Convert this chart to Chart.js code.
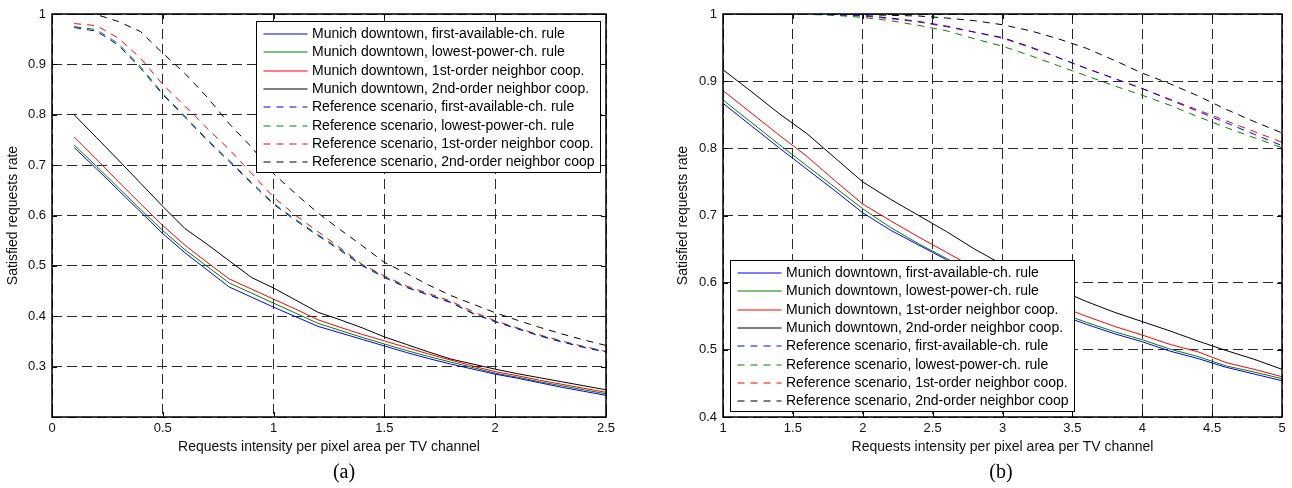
<!DOCTYPE html>
<html>
<head>
<meta charset="utf-8">
<script src="https://cdn.jsdelivr.net/npm/chart.js@4.4.1/dist/chart.umd.min.js"></script>
<style>
html,body{margin:0;padding:0;background:#fff;width:1292px;height:488px;overflow:hidden;position:relative;}
.wrap{position:absolute;top:0;height:460px;}
#wa{left:0;width:640px;}
#wb{left:670px;width:622px;}
.cap{position:absolute;top:459px;line-height:24px;font-size:20px;font-family:"Liberation Serif","Times New Roman",serif;color:#000;transform:translateX(-50%);}
</style>
</head>
<body>
<div class="wrap" id="wa"><canvas id="ca" width="640" height="460"></canvas></div>
<div class="wrap" id="wb"><canvas id="cb" width="622" height="460"></canvas></div>
<div class="cap" style="left:344px">(a)</div>
<div class="cap" style="left:1001px">(b)</div>
<script>
// ---------- data ----------
const seriesLabels = [
  "Munich downtown, first-available-ch. rule",
  "Munich downtown, lowest-power-ch. rule",
  "Munich downtown, 1st-order neighbor coop.",
  "Munich downtown, 2nd-order neighbor coop.",
  "Reference scenario, first-available-ch. rule",
  "Reference scenario, lowest-power-ch. rule",
  "Reference scenario, 1st-order neighbor coop.",
  "Reference scenario, 2nd-order neighbor coop"
];
const xTitle = "Requests intensity per pixel area per TV channel";
const yTitle = "Satisfied requests rate";

// panel (a)
const xA = [0.1,0.2,0.3,0.4,0.5,0.6,0.7,0.8,0.9,1.0,1.1,1.2,1.3,1.4,1.5,1.6,1.7,1.8,1.9,2.0,2.1,2.2,2.3,2.4,2.5];
const mdFirstA  = [0.735,0.693,0.650,0.607,0.564,0.526,0.492,0.458,0.438,0.418,0.399,0.380,0.367,0.354,0.341,0.328,0.316,0.305,0.295,0.285,0.277,0.268,0.259,0.251,0.243];
const mdLowestA = [0.740,0.698,0.655,0.612,0.570,0.532,0.499,0.466,0.446,0.426,0.406,0.386,0.372,0.358,0.345,0.332,0.320,0.309,0.298,0.287,0.279,0.270,0.262,0.254,0.246];
const md1stA    = [0.756,0.712,0.667,0.623,0.580,0.541,0.507,0.474,0.454,0.434,0.414,0.393,0.378,0.364,0.351,0.338,0.325,0.313,0.301,0.290,0.282,0.273,0.265,0.257,0.249];
const md2ndA    = [0.800,0.755,0.710,0.664,0.618,0.574,0.543,0.510,0.477,0.456,0.432,0.408,0.393,0.377,0.359,0.344,0.329,0.315,0.305,0.295,0.286,0.278,0.270,0.262,0.254];
const refFirstA  = [0.973,0.966,0.938,0.892,0.840,0.795,0.749,0.707,0.664,0.622,0.590,0.560,0.531,0.500,0.477,0.457,0.442,0.427,0.405,0.389,0.375,0.361,0.349,0.338,0.329];
const refLowestA = [0.975,0.969,0.941,0.895,0.842,0.797,0.751,0.709,0.666,0.624,0.592,0.562,0.533,0.502,0.479,0.458,0.443,0.428,0.406,0.390,0.376,0.362,0.350,0.339,0.330];
const ref1stA    = [0.981,0.977,0.952,0.912,0.860,0.817,0.773,0.731,0.684,0.636,0.600,0.568,0.536,0.503,0.480,0.460,0.445,0.430,0.409,0.391,0.377,0.363,0.351,0.340,0.330];
const ref2ndA    = [1.000,0.999,0.985,0.965,0.922,0.882,0.835,0.782,0.736,0.683,0.643,0.605,0.572,0.540,0.507,0.485,0.462,0.441,0.424,0.407,0.392,0.378,0.365,0.353,0.342];

// panel (b)
const xB = [1.0,1.2,1.4,1.6,1.8,2.0,2.2,2.4,2.6,2.8,3.0,3.2,3.4,3.6,3.8,4.0,4.2,4.4,4.6,4.8,5.0];
const mdFirstB  = [0.867,0.834,0.801,0.769,0.737,0.704,0.678,0.656,0.634,0.611,0.590,0.571,0.553,0.538,0.524,0.512,0.498,0.487,0.474,0.464,0.454];
const mdLowestB = [0.872,0.839,0.806,0.774,0.742,0.710,0.682,0.658,0.636,0.614,0.593,0.574,0.556,0.541,0.527,0.515,0.501,0.490,0.476,0.467,0.457];
const md1stB    = [0.886,0.853,0.820,0.788,0.752,0.717,0.692,0.668,0.645,0.622,0.601,0.584,0.566,0.550,0.535,0.522,0.508,0.497,0.481,0.471,0.460];
const md2ndB    = [0.917,0.885,0.852,0.822,0.786,0.750,0.724,0.700,0.676,0.650,0.627,0.608,0.590,0.572,0.556,0.542,0.528,0.513,0.499,0.486,0.471];
const refFirstB  = [1.000,1.000,1.000,1.000,0.999,0.998,0.994,0.989,0.982,0.973,0.965,0.951,0.935,0.919,0.904,0.889,0.872,0.855,0.838,0.821,0.804];
const refLowestB = [1.000,1.000,1.000,0.9995,0.998,0.995,0.990,0.983,0.975,0.963,0.952,0.938,0.923,0.908,0.893,0.879,0.864,0.847,0.831,0.816,0.801];
const ref1stB    = [1.000,1.000,1.000,1.000,0.999,0.997,0.993,0.988,0.981,0.973,0.964,0.950,0.935,0.919,0.904,0.889,0.873,0.857,0.841,0.825,0.809];
const ref2ndB    = [1.000,1.000,1.000,1.000,0.999,0.999,0.998,0.997,0.994,0.990,0.984,0.975,0.963,0.949,0.931,0.912,0.896,0.878,0.858,0.840,0.823];

// axis ranges / ticks
const xTicksA = {min:0, max:2.5, step:0.5};
const yTicksA = {min:0.2, max:1, step:0.1, hideMin:true};
const xTicksB = {min:1, max:5, step:0.5};
const yTicksB = {min:0.4, max:1, step:0.1, hideMin:false};

// ---------- styles ----------
const colors = ['#0000ff','#008000','#ff0000','#000000','#0000ff','#008000','#ff0000','#000000'];
const SERIES_DASH = [7,6];
const GRID_DASH = [10,5];
const FONT = '"Liberation Sans", Arial, Helvetica, sans-serif';

function pts(xs, ys){ return xs.map((x,i)=>({x:x, y:ys[i]})); }
function fmt(v){ return String(+Number(v).toFixed(2)); }

const frameLegend = {
  id: 'frameLegend',
  afterDraw(chart, args, opts){
    const {ctx, chartArea:a, scales:{x, y}} = chart;
    ctx.save();
    ctx.setLineDash([]);
    ctx.strokeStyle = '#000';
    // inward tick marks
    ctx.lineWidth = 1;
    ctx.beginPath();
    x.ticks.forEach(t=>{
      const px = Math.round(x.getPixelForValue(t.value)) + 0.5;
      ctx.moveTo(px, a.bottom); ctx.lineTo(px, a.bottom-5);
      ctx.moveTo(px, a.top); ctx.lineTo(px, a.top+5);
    });
    y.ticks.forEach(t=>{
      const py = Math.round(y.getPixelForValue(t.value)) + 0.5;
      ctx.moveTo(a.left, py); ctx.lineTo(a.left+5, py);
      ctx.moveTo(a.right, py); ctx.lineTo(a.right-5, py);
    });
    ctx.stroke();
    // box
    ctx.lineWidth = 1.5;
    ctx.strokeRect(a.left, a.top, a.right-a.left, a.bottom-a.top);

    // legend
    const W = 344, H = 151;
    let bx, by;
    if (opts.corner === 'tr') { bx = a.right - 6 - W; by = a.top + 7; }
    else { bx = a.left + 6.5; by = a.bottom - 6.5 - H; }
    bx = Math.round(bx) + 0.5; by = Math.round(by) + 0.5;
    ctx.fillStyle = '#fff';
    ctx.fillRect(bx, by, W, H);
    ctx.lineWidth = 1;
    ctx.strokeStyle = '#000';
    ctx.strokeRect(bx, by, W, H);
    ctx.font = '14px ' + FONT;
    ctx.textBaseline = 'middle';
    ctx.textAlign = 'left';
    chart.data.datasets.forEach((ds, i)=>{
      const cy = Math.round(by + 12.3 + i*18.35);
      ctx.strokeStyle = ds.borderColor;
      ctx.lineWidth = 1.2;
      ctx.setLineDash(ds.borderDash || []);
      ctx.beginPath();
      ctx.moveTo(bx + 7, cy); ctx.lineTo(bx + 51, cy);
      ctx.stroke();
      ctx.setLineDash([]);
      ctx.fillStyle = '#000';
      ctx.fillText(ds.label, bx + 55.5, cy + 0.5);
    });
    ctx.restore();
  }
};

function makeChart(id, xs, ys, xt, yt, corner, yWidth, padRight){
  const datasets = ys.map((arr, i)=>({
    label: seriesLabels[i],
    data: pts(xs, arr),
    borderColor: colors[i],
    backgroundColor: colors[i],
    borderWidth: 1,
    borderDash: i >= 4 ? SERIES_DASH : [],
    pointRadius: 0,
    tension: 0,
    fill: false
  }));
  return new Chart(document.getElementById(id), {
    type: 'line',
    data: { datasets },
    plugins: [frameLegend],
    options: {
      responsive: false,
      animation: false,
      layout: { padding: { top: 14, right: padRight, left: 0, bottom: 0 } },
      plugins: {
        legend: { display: false },
        tooltip: { enabled: false },
        frameLegend: { corner }
      },
      scales: {
        x: {
          type: 'linear', min: xt.min, max: xt.max,
          afterFit(s){ s.height = 43; },
          grid: { color: '#2a2a2a', lineWidth: 1, drawTicks: false },
          border: { display: false, dash: GRID_DASH },
          ticks: { stepSize: xt.step, padding: 4, color: '#111', maxRotation: 0,
                   font: { family: FONT, size: 13 }, callback: v => fmt(v) },
          title: { display: true, text: xTitle, color: '#111',
                   font: { family: FONT, size: 14 }, padding: { top: 0, bottom: 4 } }
        },
        y: {
          type: 'linear', min: yt.min, max: yt.max,
          afterFit(s){ s.width = yWidth; },
          grid: { color: '#2a2a2a', lineWidth: 1, drawTicks: false },
          border: { display: false, dash: GRID_DASH },
          ticks: { stepSize: yt.step, padding: 6, color: '#111',
                   font: { family: FONT, size: 13 },
                   callback: v => (yt.hideMin && Math.abs(v - yt.min) < 1e-6) ? '' : fmt(v) },
          title: { display: true, text: yTitle, color: '#111',
                   font: { family: FONT, size: 14 }, padding: { top: 4.5, bottom: 0 } }
        }
      }
    }
  });
}

makeChart('ca', xA, [mdFirstA, mdLowestA, md1stA, md2ndA, refFirstA, refLowestA, ref1stA, ref2ndA],
          xTicksA, yTicksA, 'tr', 52, 34);
makeChart('cb', xB, [mdFirstB, mdLowestB, md1stB, md2ndB, refFirstB, refLowestB, ref1stB, ref2ndB],
          xTicksB, yTicksB, 'bl', 53, 10);
</script>
</body>
</html>
